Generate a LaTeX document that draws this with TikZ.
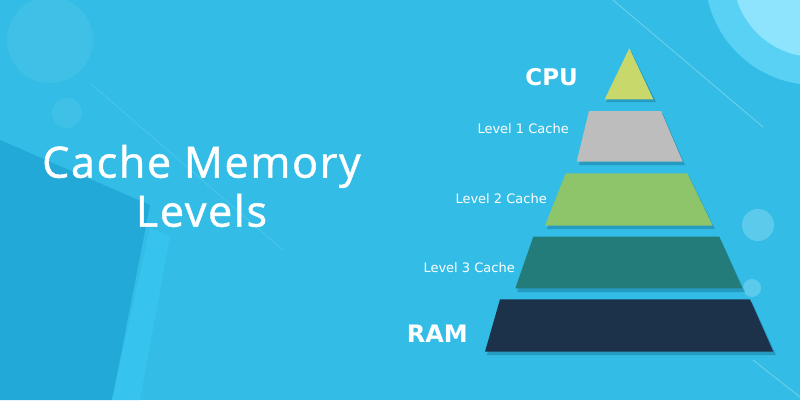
\documentclass[tikz,border=0pt]{standalone}
\usepackage{fontspec}
\setmainfont{DejaVu Sans}
\newfontfamily\titlefont[LetterSpace=4,FakeBold=1.2]{Open Sans}
\usetikzlibrary{calc}
\definecolor{bgblue}{HTML}{33BDE6}
\definecolor{bgdark}{HTML}{22A9D8}
\definecolor{bglight}{HTML}{36C3ED}
\definecolor{sunouter}{HTML}{59D1F5}
\definecolor{suninner}{HTML}{8EE4FC}
\definecolor{shade}{HTML}{0E5E80}
\definecolor{cpucol}{HTML}{C8D86A}
\definecolor{lonecol}{HTML}{BDBDBD}
\definecolor{ltwocol}{HTML}{8EC56A}
\definecolor{lthreecol}{HTML}{237C79}
\definecolor{ramcol}{HTML}{1C324B}

\begin{document}
\begin{tikzpicture}[x=1pt, y=-1pt,
  lbl/.style={text=white, anchor=east, inner sep=0pt, font=\fontsize{13}{15}\selectfont},
  big/.style={text=white, anchor=east, inner sep=0pt, font=\bfseries\fontsize{23}{26}\selectfont},
  shd/.style={fill=shade, opacity=0.35}]
  \useasboundingbox (0,0) rectangle (800,400);
  % background
  \fill[bgblue] (0,0) rectangle (800,400);
  \fill[bgdark] (0,140) -- (150,205) -- (112,400) -- (0,400) -- cycle;
  \fill[bglight] (150,228) -- (170,236) -- (140,400) -- (112,400) -- cycle;
  \fill[white, opacity=0.06] (50,40) circle (43);
  \fill[white, opacity=0.06] (67,113) circle (15);
  \draw[white, opacity=0.12, line width=0.8pt] (90,83) -- (283,250);
  \fill[sunouter] (815,-25) circle (110);
  \fill[suninner] (815,-25) circle (82);
  \draw[white, opacity=0.3, line width=0.8pt] (613,0) -- (763,127);
  \draw[white, opacity=0.3, line width=0.8pt] (753,360) -- (800,397);
  \fill[white, opacity=0.2] (758,225) circle (16);
  \fill[white, opacity=0.2] (752,288) circle (9);

  % pyramid shadows
  \fill[shd] (606,102) -- (631,51) -- (656,102) -- cycle;
  \fill[shd] (579,165) -- (591,114) -- (663,114) -- (685,165) -- cycle;
  \fill[shd] (547,229) -- (568,176) -- (689,176) -- (715,229) -- cycle;
  \fill[shd] (517,292) -- (535,240) -- (721,240) -- (745,292) -- cycle;
  \fill[shd] (487,355) -- (502,302) -- (752,302) -- (776,355) -- cycle;

  % pyramid layers
  \fill[cpucol] (604.7,99.3) -- (629.3,48.3) -- (653.3,99.3) -- cycle;
  \fill[lonecol] (576.7,161.7) -- (589,111) -- (661,111) -- (682.7,161.7) -- cycle;
  \fill[ltwocol] (545,225.7) -- (565.7,173.3) -- (687.3,173.3) -- (712.7,225.7) -- cycle;
  \fill[lthreecol] (515.3,288.3) -- (533.3,236.7) -- (719.3,236.7) -- (742.3,288.3) -- cycle;
  \fill[ramcol] (485,351.7) -- (500,299.3) -- (750,299.3) -- (773.3,351.7) -- cycle;

  % labels
  \node[big] (cpu) at (578,77) {CPU};
  \node[lbl] (lone) at (569,129) {Level 1 Cache};
  \node[lbl] (ltwo) at (547,199) {Level 2 Cache};
  \node[lbl] (lthree) at (515,268) {Level 3 Cache};
  \node[big, font=\bfseries\fontsize{24}{27}\selectfont] (ram) at (468,334) {RAM};

  % title
  \node[text=white, align=center, font=\titlefont\fontsize{43}{49}\selectfont] (title) at (201.5,186) {Cache Memory\\Levels};
\end{tikzpicture}
\end{document}
